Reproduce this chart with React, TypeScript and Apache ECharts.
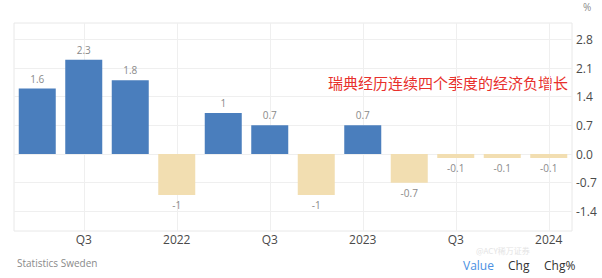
import React, { useEffect, useRef } from "react";
import * as echarts from "echarts";

const categories = ["Q2", "Q3", "Q4", "2022", "Q2", "Q3", "Q4", "2023", "Q2", "Q3", "Q4", "2024"];
const values = [1.6, 2.3, 1.8, -1, 1, 0.7, -1, 0.7, -0.7, -0.1, -0.1, -0.1];
const yTicks = [-1.4, -0.7, 0, 0.7, 1.4, 2.1, 2.8];
const annotation = "瑞典经历连续四个季度的经济负增长";
const source = "Statistics Sweden";
const tabs = ["Value", "Chg", "Chg%"];

const POS = "#4a7ebd";
const NEG = "#f2deb1";

export default function App() {
  const ref = useRef<HTMLDivElement>(null);
  useEffect(() => {
    if (!ref.current) return;
    const chart = echarts.init(ref.current, null, { renderer: "svg" });
    const font = "'Open Sans', 'Noto Sans', sans-serif";
    const labelIdx = categories.map((_, i) => i).filter((i) => i % 2 === 1);
    chart.setOption({
      animation: false,
      grid: {
        left: 14,
        right: 30,
        top: 23,
        bottom: 47,
        show: true,
        borderColor: "#e8e8e8",
        borderWidth: 1,
        containLabel: false,
      },
      xAxis: [
        {
          type: "category",
          data: categories,
          boundaryGap: true,
          axisLine: { show: false },
          axisTick: { show: false },
          splitLine: { show: false },
          axisLabel: {
            interval: (i: number) => i % 2 === 1,
            color: "#4a4a4a",
            fontSize: 12,
            fontFamily: font,
            margin: 2,
          },
        },
        {
          type: "value",
          min: -0.5,
          max: categories.length - 0.5,
          show: true,
          axisLine: { show: false },
          axisTick: { show: false, customValues: labelIdx },
          axisLabel: { show: false, customValues: labelIdx },
          splitLine: { show: true, lineStyle: { color: "#efefef", width: 1 } },
        },
      ],
      yAxis: {
        type: "value",
        position: "right",
        min: -1.88,
        max: 3.2,
        axisLine: { show: false },
        axisTick: { show: false, customValues: yTicks },
        splitLine: { show: true, lineStyle: { color: "#efefef", width: 1 } },
        axisLabel: {
          customValues: yTicks,
          color: "#4a4a4a",
          fontSize: 12,
          fontFamily: font,
          margin: 4,
          formatter: (v: number) => v.toFixed(1),
        },
      },
      series: [
        {
          type: "bar",
          xAxisIndex: 0,
          barWidth: 37,
          data: values.map((v) => ({
            value: v,
            itemStyle: { color: v >= 0 ? POS : NEG },
            label: {
              show: true,
              position: v >= 0 ? "top" : "bottom",
              distance: 5,
              color: "#8a8a8a",
              fontSize: 10,
              fontFamily: font,
              formatter: () => String(v),
            },
          })),
        },
      ],
      graphic: [
        {
          type: "text",
          left: 583,
          top: 2,
          style: { text: "%", fill: "#8a8a8a", font: `10px ${font}` },
        },
        {
          type: "text",
          left: 328,
          top: 75,
          style: {
            text: annotation,
            fill: "#e8302c",
            font: "15px 'Noto Sans CJK SC', sans-serif",
          },
        },
        {
          type: "text",
          left: 17,
          top: 258,
          style: { text: source, fill: "#8a8a8a", font: `10px ${font}` },
        },
        {
          type: "text",
          left: 476,
          top: 246,
          style: { text: "@ACY稀万证券", fill: "#e4e4e4", font: "8px 'Noto Sans CJK SC', sans-serif" },
        },
        {
          type: "text",
          left: 463,
          top: 259,
          style: { text: tabs[0], fill: "#4a90e2", font: `12px ${font}` },
        },
        {
          type: "text",
          left: 508,
          top: 259,
          style: { text: tabs[1], fill: "#333333", font: `12px ${font}` },
        },
        {
          type: "text",
          left: 544,
          top: 259,
          style: { text: tabs[2], fill: "#333333", font: `12px ${font}` },
        },
      ],
    });
    return () => chart.dispose();
  }, []);
  return <div ref={ref} style={{ width: 602, height: 278, position: "absolute", left: 0, top: 0 }} />;
}
